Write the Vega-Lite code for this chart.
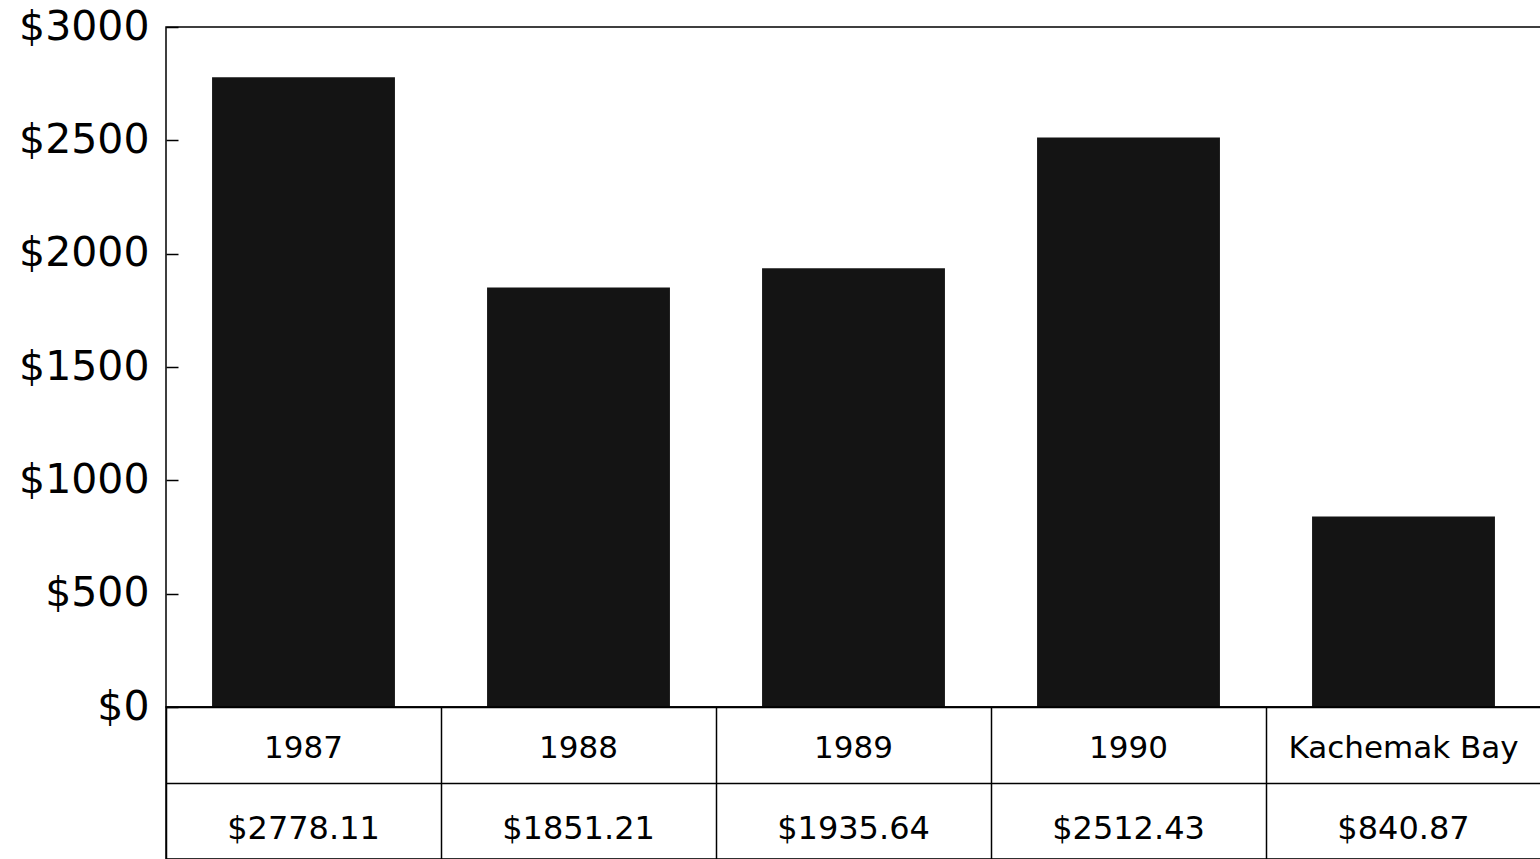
{
  "$schema": "https://vega.github.io/schema/vega-lite/v6.json",
  "background": "white",
  "padding": {"top": 5, "left": 5, "right": 0, "bottom": 0},
  "spacing": 0,
  "bounds": "flush",
  "config": {
    "font": "DejaVu Sans",
    "view": {"stroke": "black", "strokeWidth": 1.5},
    "text": {"color": "black"}
  },
  "data": {
    "values": [
      {"place": "1987", "cost": 2778.11},
      {"place": "1988", "cost": 1851.21},
      {"place": "1989", "cost": 1935.64},
      {"place": "1990", "cost": 2512.43},
      {"place": "Kachemak Bay", "cost": 840.87}
    ]
  },
  "vconcat": [
    {
      "width": 1375,
      "height": 680,
      "mark": {"type": "bar", "color": "#141414"},
      "encoding": {
        "x": {
          "field": "place", "type": "nominal", "sort": null,
          "scale": {"paddingInner": 0.335, "paddingOuter": 0.1675},
          "axis": null
        },
        "y": {
          "field": "cost", "type": "quantitative",
          "scale": {"domain": [0, 3000], "nice": false},
          "axis": {
            "title": null, "grid": false, "domain": false,
            "values": [0, 500, 1000, 1500, 2000, 2500, 3000],
            "format": "$d",
            "labelFont": "DejaVu Sans", "labelFontSize": 41, "labelColor": "black",
            "tickSize": -12, "tickColor": "black", "tickWidth": 1.5,
            "labelPadding": 29,
            "minExtent": 160, "maxExtent": 160
          }
        }
      }
    },
    {
      "width": 1375,
      "height": 152,
      "encoding": {
        "x": {
          "field": "place", "type": "nominal", "sort": null,
          "scale": {"paddingInner": 0, "paddingOuter": 0},
          "axis": {
            "title": null, "labels": false, "ticks": false, "domain": false,
            "grid": true, "tickBand": "extent",
            "gridColor": "black", "gridOpacity": 1, "gridWidth": 1.5
          }
        }
      },
      "layer": [
        {
          "mark": {"type": "text", "fontSize": 31, "dy": 4},
          "encoding": {
            "text": {"field": "place"},
            "y": {
              "datum": "name", "type": "nominal",
              "scale": {"type": "band", "domain": ["name", "cost"], "paddingInner": 0, "paddingOuter": 0},
              "axis": {
                "title": null, "labels": false, "ticks": false, "domain": false,
                "grid": true, "tickBand": "extent",
                "gridColor": "black", "gridOpacity": 1, "gridWidth": 1.5
              }
            }
          }
        },
        {
          "mark": {"type": "text", "fontSize": 32, "dy": 8},
          "encoding": {
            "text": {"field": "cost", "type": "quantitative", "format": "$.2f"},
            "y": {"datum": "cost", "type": "nominal"}
          }
        }
      ]
    }
  ]
}
